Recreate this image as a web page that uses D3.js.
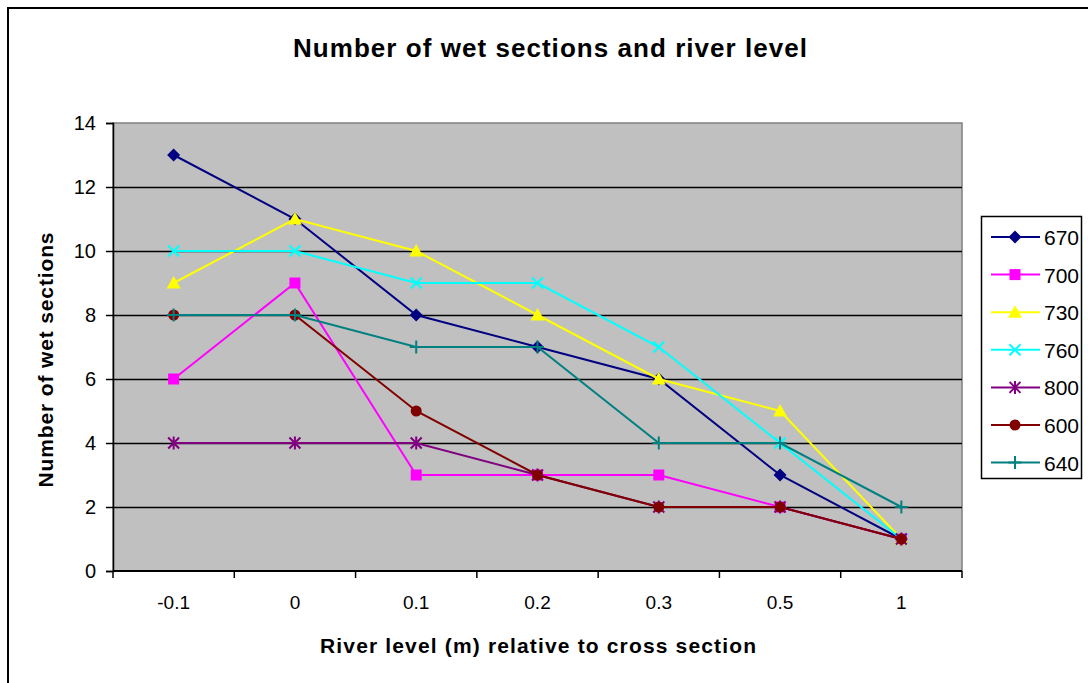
<!DOCTYPE html>
<html>
<head>
<meta charset="utf-8">
<script src="https://cdn.jsdelivr.net/npm/d3@7"></script>
<style>
  body { margin: 0; background: #fff; }
  text { font-family: "Liberation Sans", Arial, sans-serif; }
</style>
</head>
<body>
<svg id="chart" width="1088" height="683"></svg>
<script>
// category labels on the x axis (river level, m)
const levels = ["-0.1", "0", "0.1", "0.2", "0.3", "0.5", "1"];
const yTicks = [0, 2, 4, 6, 8, 10, 12, 14];

// one array per cross section
const s670 = [13, 11, 8, 7, 6, 3, 1];
const s700 = [6, 9, 3, 3, 3, 2, 1];
const s730 = [9, 11, 10, 8, 6, 5, 1];
const s760 = [10, 10, 9, 9, 7, 4, 1];
const s800 = [4, 4, 4, 3, 2, 2, 1];
const s600 = [8, 8, 5, 3, 2, 2, 1];
const s640 = [8, 8, 7, 7, 4, 4, 2];

const seriesNames = ["670", "700", "730", "760", "800", "600", "640"];
const seriesValues = [s670, s700, s730, s760, s800, s600, s640];
const seriesColors = ["#000080", "#FF00FF", "#FFFF00", "#00FFFF", "#800080", "#800000", "#008080"];
const seriesMarkers = ["diamond", "square", "triangle", "x", "star", "circle", "plus"];

const series = seriesNames.map((name, i) => ({
    name: name,
    color: seriesColors[i],
    marker: seriesMarkers[i],
    values: seriesValues[i]
}));

let svg = d3.select("#chart");
let plot = { left: 113, right: 962, top: 123, bottom: 571 };

// outer chart border (right and bottom edges fall outside the picture)
svg.append("path")
    .attr("d", "M8,690 L8,8 L1095,8")
    .attr("fill", "none")
    .attr("stroke", "#000")
    .attr("stroke-width", 2);

// scales
let xScale = d3.scaleBand()
    .domain(levels)
    .range([plot.left, plot.right]);

let yScale = d3.scaleLinear()
    .domain([0, 14])
    .range([plot.bottom, plot.top]);

// gray plot area
svg.append("rect")
    .attr("x", plot.left)
    .attr("y", plot.top)
    .attr("width", plot.right - plot.left)
    .attr("height", plot.bottom - plot.top)
    .attr("fill", "#C0C0C0")
    .attr("stroke", "#808080")
    .attr("stroke-width", 1.5);

// horizontal gridlines
svg.append("g")
    .selectAll("line")
    .data(yTicks.filter(d => d > 0 && d < 14))
    .enter()
    .append("line")
        .attr("x1", plot.left)
        .attr("x2", plot.right)
        .attr("y1", d => Math.round(yScale(d)) + 0.5)
        .attr("y2", d => Math.round(yScale(d)) + 0.5)
        .attr("stroke", "#000")
        .attr("stroke-width", 1.3);

// y axis
let yAxis = d3.axisLeft(yScale)
    .tickValues(yTicks)
    .tickSize(7)
    .tickPadding(10);

svg.append("g")
    .attr("transform", `translate(${plot.left},0)`)
    .call(yAxis)
    .call(g => g.select(".domain").attr("stroke-width", 1.5))
    .call(g => g.selectAll(".tick line").attr("stroke-width", 1.5))
    .call(g => g.selectAll(".tick text")
        .style("font-size", "20px")
        .style("font-family", "'Liberation Sans', Arial, sans-serif")
        .attr("fill", "#000"));

// x axis: ticks sit between categories, labels centred in each band
let xAxisG = svg.append("g")
    .attr("transform", `translate(0,${plot.bottom})`);

xAxisG.append("line")
    .attr("x1", plot.left)
    .attr("x2", plot.right)
    .attr("stroke", "#000")
    .attr("stroke-width", 2);

let bounds = levels.map(d => xScale(d)).concat([plot.right]);
xAxisG.selectAll(".xtick")
    .data(bounds)
    .enter()
    .append("line")
        .classed("xtick", true)
        .attr("x1", d => d)
        .attr("x2", d => d)
        .attr("y1", 0)
        .attr("y2", 7)
        .attr("stroke", "#000")
        .attr("stroke-width", 1.5);

xAxisG.selectAll(".xlabel")
    .data(levels)
    .enter()
    .append("text")
        .classed("xlabel", true)
        .attr("x", d => xScale(d) + xScale.bandwidth() / 2)
        .attr("y", 38)
        .style("text-anchor", "middle")
        .style("font-size", "19px")
        .text(d => d);

// titles
svg.append("text")
    .attr("x", 550)
    .attr("y", 57)
    .style("text-anchor", "middle")
    .style("font-size", "26px")
    .style("font-weight", "bold")
    .attr("textLength", 514)
    .attr("lengthAdjust", "spacing")
    .text("Number of wet sections and river level");

svg.append("text")
    .attr("x", 538)
    .attr("y", 653)
    .style("text-anchor", "middle")
    .style("font-size", "21px")
    .style("font-weight", "bold")
    .attr("textLength", 436)
    .attr("lengthAdjust", "spacing")
    .text("River level (m) relative to cross section");

svg.append("text")
    .attr("transform", "rotate(-90)")
    .attr("x", -360)
    .attr("y", 53)
    .style("text-anchor", "middle")
    .style("font-size", "21px")
    .style("font-weight", "bold")
    .attr("textLength", 255)
    .attr("lengthAdjust", "spacing")
    .text("Number of wet sections");

// marker drawing
function drawMarker(g, type, color) {
    let s = 5.5;
    if (type === "diamond") {
        g.append("path").attr("d", `M0,-6.5 L6.5,0 L0,6.5 L-6.5,0 Z`)
            .attr("fill", color);
    } else if (type === "square") {
        g.append("rect").attr("x", -s).attr("y", -s)
            .attr("width", 2 * s).attr("height", 2 * s).attr("fill", color);
    } else if (type === "triangle") {
        g.append("path").attr("d", `M0,${-s - 1.5} L${s + 1.5},${s} L${-s - 1.5},${s} Z`)
            .attr("fill", color);
    } else if (type === "circle") {
        g.append("circle").attr("r", s).attr("fill", color);
    } else if (type === "x") {
        g.append("path").attr("d", `M${-s},${-s} L${s},${s} M${-s},${s} L${s},${-s}`)
            .attr("stroke", color).attr("stroke-width", 2);
    } else if (type === "star") {
        g.append("path").attr("d", `M${-s},${-s} L${s},${s} M${-s},${s} L${s},${-s} M0,${-s - 1} L0,${s + 1}`)
            .attr("stroke", color).attr("stroke-width", 2);
    } else if (type === "plus") {
        g.append("path").attr("d", `M${-s - 1},0 L${s + 1},0 M0,${-s - 1} L0,${s + 1}`)
            .attr("stroke", color).attr("stroke-width", 2);
    }
}

let line = d3.line()
    .x((d, i) => xScale(levels[i]) + xScale.bandwidth() / 2)
    .y(d => yScale(d));

// lines and markers, series in legend order
series.forEach(s => {
    let g = svg.append("g");
    g.append("path")
        .datum(s.values)
        .attr("d", line)
        .attr("fill", "none")
        .attr("stroke", s.color)
        .attr("stroke-width", 2);

    s.values.forEach((v, i) => {
        let mg = g.append("g")
            .attr("transform", `translate(${xScale(levels[i]) + xScale.bandwidth() / 2},${yScale(v)})`);
        drawMarker(mg, s.marker, s.color);
    });
});

// legend
let legend = svg.append("g");
legend.append("rect")
    .attr("x", 981.5)
    .attr("y", 216.5)
    .attr("width", 100)
    .attr("height", 262)
    .attr("fill", "#fff")
    .attr("stroke", "#000")
    .attr("stroke-width", 1.5);

series.forEach((s, i) => {
    let y = 237 + i * 37.6;
    let row = legend.append("g");
    row.append("line")
        .attr("x1", 991)
        .attr("x2", 1040)
        .attr("y1", y)
        .attr("y2", y)
        .attr("stroke", s.color)
        .attr("stroke-width", 2);
    drawMarker(row.append("g").attr("transform", `translate(1015,${y})`), s.marker, s.color);
    row.append("text")
        .attr("x", 1044)
        .attr("y", y + 8)
        .style("font-size", "21px")
        .text(s.name);
});
</script>
</body>
</html>
